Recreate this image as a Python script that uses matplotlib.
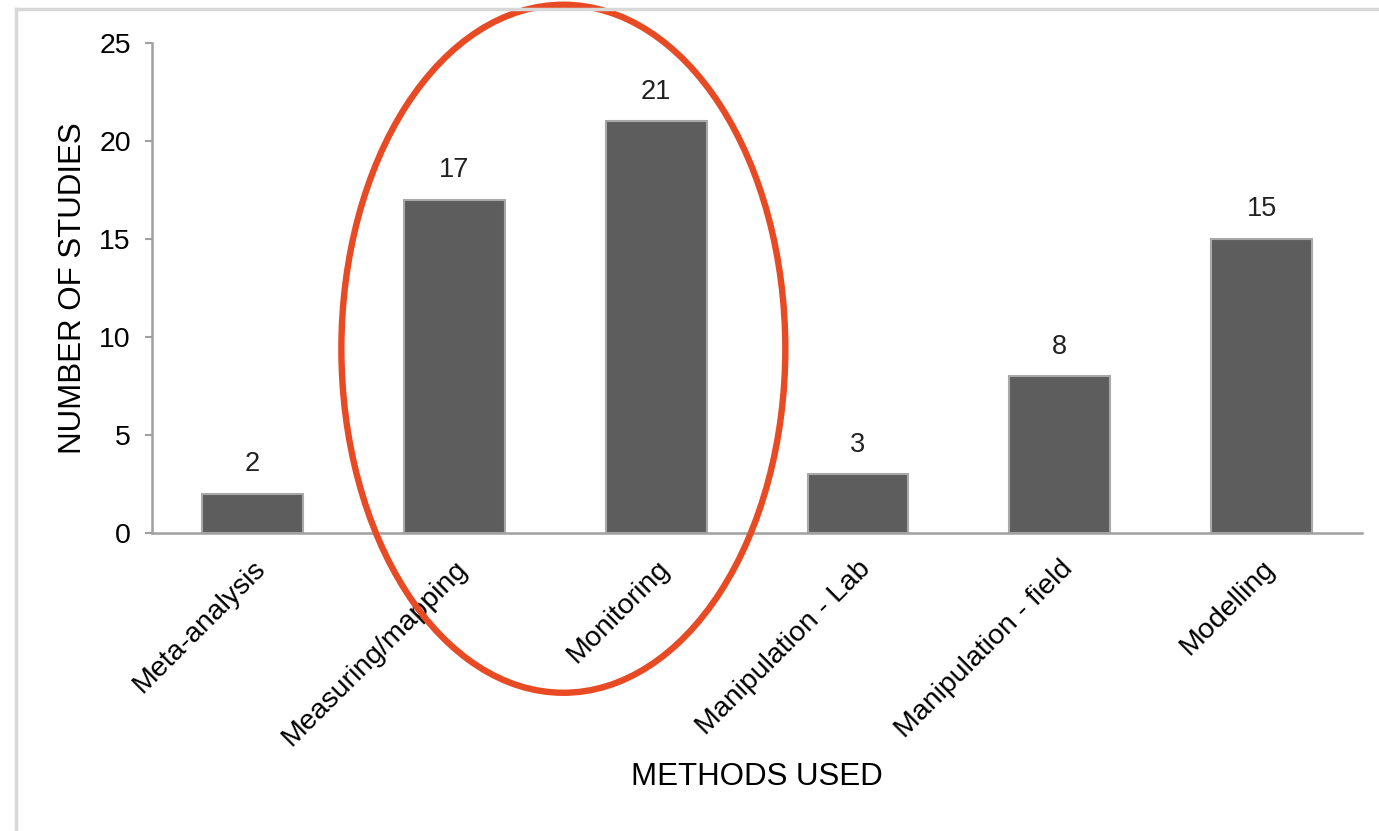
import matplotlib
matplotlib.use("Agg")
import matplotlib.pyplot as plt
from matplotlib.patches import Ellipse
from matplotlib.lines import Line2D
import numpy as np

METHODS = [
    "Meta-analysis",
    "Measuring/mapping",
    "Monitoring",
    "Manipulation - Lab",
    "Manipulation - field",
    "Modelling",
]
N_STUDIES = [2, 17, 21, 3, 8, 15]
HIGHLIGHT = ["Measuring/mapping", "Monitoring"]
Y_TICKS = [0, 5, 10, 15, 20, 25]

plt.rcParams.update({
    "font.family": ["Liberation Sans", "DejaVu Sans"],
    "font.size": 19,
})

fig = plt.figure(figsize=(13.79, 8.31), dpi=100)
ax = fig.add_axes([0.110, 0.3586, 0.878, 0.5897])

x = np.arange(len(METHODS))
bars = ax.bar(x, N_STUDIES, width=0.5, color="#5d5d5d",
              edgecolor="#a8a8a8", linewidth=1.5, zorder=2)

for bar, val in zip(bars, N_STUDIES):
    ax.annotate(str(val), (bar.get_x() + bar.get_width() / 2, bar.get_height()),
                xytext=(0, 12), textcoords="offset points",
                ha="center", va="bottom", fontsize=19.5, color="#222222")

ax.set_xlim(-0.5, len(METHODS) - 0.5)
ax.set_ylim(0, 25)
ax.set_yticks(Y_TICKS)
ax.set_xticks(x)
ax.set_xticklabels(METHODS, rotation=45, ha="right", va="top",
                   rotation_mode="anchor", fontsize=20.5)
ax.tick_params(axis="x", length=0, pad=16)
ax.tick_params(axis="y", direction="out", length=5, width=1.5,
               color="#a0a0a0", pad=10, labelsize=20.5)

for side in ("top", "right"):
    ax.spines[side].set_visible(False)
for side in ("left", "bottom"):
    ax.spines[side].set_color("#a0a0a0")
    ax.spines[side].set_linewidth(1.8)

ax.set_ylabel("NUMBER OF STUDIES", fontsize=22.5)
ax.yaxis.set_label_coords(-0.053, 0.5)
ax.set_xlabel("METHODS USED", fontsize=22.5)
ax.xaxis.set_label_coords(0.5, -0.468)

# ring around the observational methods
idx = [METHODS.index(m) for m in HIGHLIGHT]
ring = Ellipse((np.mean(idx) + 0.04, 9.4), width=2.2, height=35.1,
               fill=False, edgecolor="#e84a24", linewidth=4.6,
               clip_on=False, zorder=5)
ax.add_patch(ring)

# thin frame along the top and left edges
fig.add_artist(Line2D([15.5 / 1379, 1], [1 - 9 / 831, 1 - 9 / 831],
                      transform=fig.transFigure, color="#d8d8d8", lw=2.5))
fig.add_artist(Line2D([15.5 / 1379, 15.5 / 1379], [0, 1 - 9 / 831],
                      transform=fig.transFigure, color="#d8d8d8", lw=2.5))

fig.savefig("out.png", dpi=100, facecolor="white")
